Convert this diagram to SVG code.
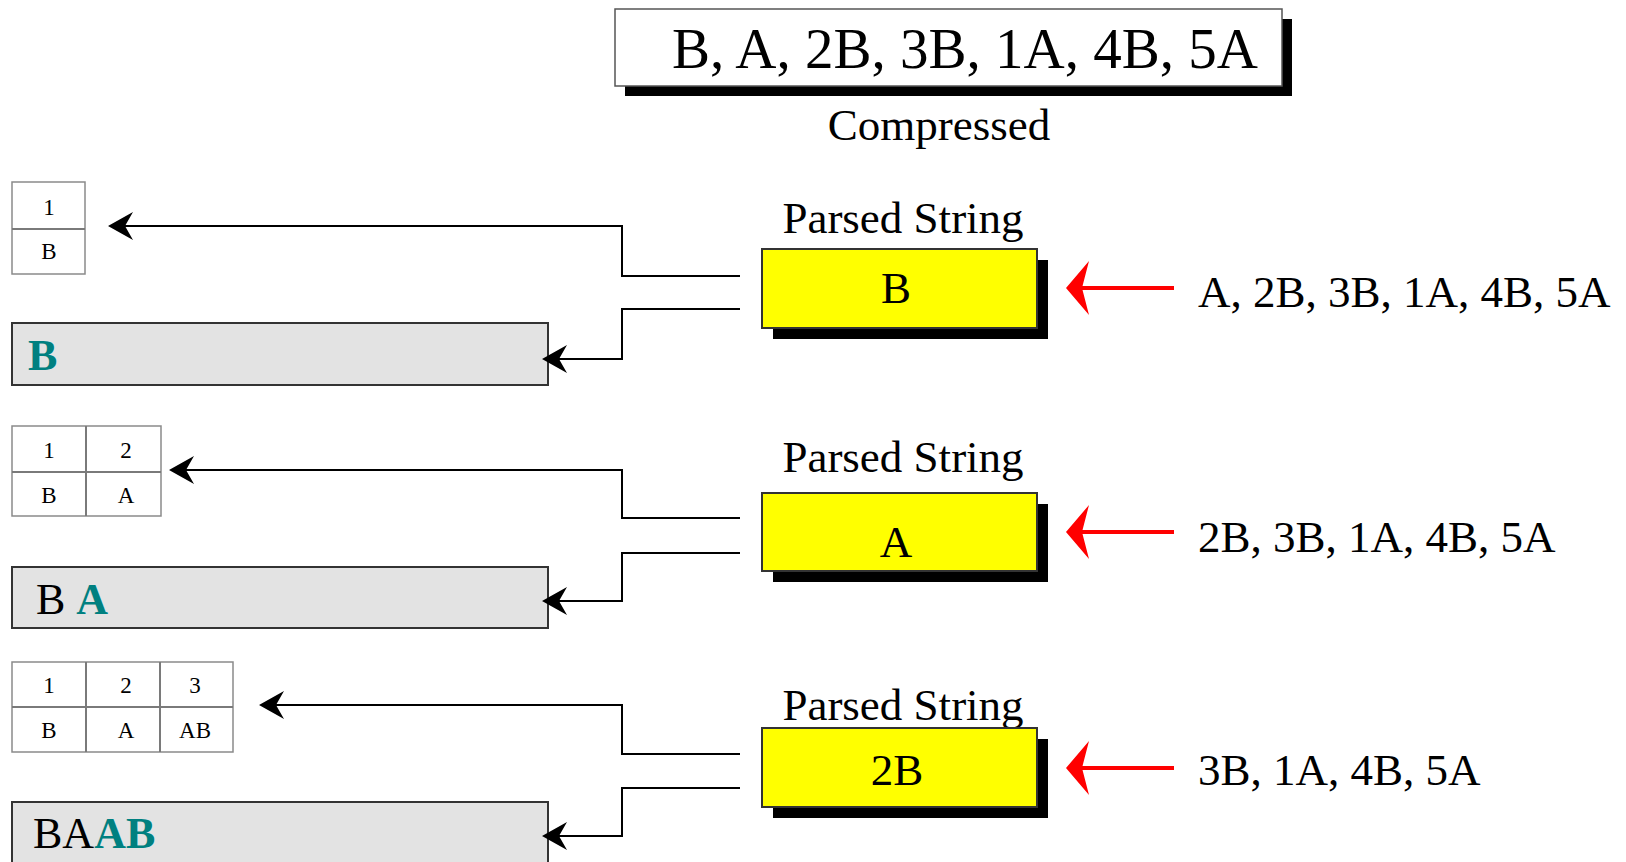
<svg xmlns="http://www.w3.org/2000/svg" width="1626" height="862" viewBox="0 0 1626 862">
<style>
.serif{font-family:"Liberation Serif","Times New Roman",serif;fill:#000}
.big{font-size:57px}
.mid{font-size:45px}
.cell{font-size:23px;text-anchor:middle}
.tbl{fill:#fff;stroke:#8a8a8a;stroke-width:1.5}
.tdiv{stroke:#7a7a7a;stroke-width:2}
.shadow{fill:#000}
.ybox{fill:#ffff00;stroke:#333;stroke-width:2}
.gbox{fill:#e3e3e3;stroke:#333;stroke-width:2}
.teal{fill:#008080;font-weight:bold}
.conn{fill:none;stroke:#000;stroke-width:2}
.red{fill:none;stroke:#ff0000;stroke-width:4}
</style>
<defs>
<marker id="ah" markerUnits="userSpaceOnUse" viewBox="-26 -15 28 30" markerWidth="28" markerHeight="30" refX="-8" refY="0" orient="auto" overflow="visible">
<path d="M0,0 L-25,-14 L-17,0 L-25,14 Z" fill="#000"/>
</marker>
<marker id="rh" markerUnits="userSpaceOnUse" viewBox="-26 -30 28 60" markerWidth="28" markerHeight="60" refX="-10" refY="0" orient="auto" overflow="visible">
<path d="M0,0 L-23,-27 L-16,0 L-23,27 Z" fill="#ff0000"/>
</marker>
</defs>
<rect width="1626" height="862" fill="#fff"/>

<g id="compressed">
<rect class="shadow" x="625" y="19" width="667" height="77"/>
<rect x="615" y="9" width="667" height="77" fill="#fff" stroke="#555" stroke-width="1.5"/>
<text class="serif big" x="672" y="68">B, A, 2B, 3B, 1A, 4B, 5A</text>
<text class="serif mid" x="939" y="140" text-anchor="middle">Compressed</text>
</g>

<g id="parsed1">
<text class="serif mid" x="903" y="233" text-anchor="middle">Parsed String</text>
<rect class="shadow" x="773" y="260" width="275" height="79"/>
<rect class="ybox" x="762" y="249" width="275" height="79"/>
<text class="serif mid" x="896" y="303" text-anchor="middle">B</text>
</g>
<g id="remain1"><text class="serif mid" x="1198" y="307">A, 2B, 3B, 1A, 4B, 5A</text></g>
<g id="table1">
<rect class="tbl" x="12" y="182" width="73" height="92"/>
<line class="tdiv" x1="12" y1="229" x2="85" y2="229"/>
<text class="serif cell" x="49" y="215">1</text>
<text class="serif cell" x="49" y="259">B</text>
</g>
<g id="output1">
<rect class="gbox" x="12" y="323" width="536" height="62"/>
<text class="serif mid" x="28" y="370"><tspan class="teal" font-size="44">B</tspan></text>
</g>

<g id="parsed2">
<text class="serif mid" x="903" y="472" text-anchor="middle">Parsed String</text>
<rect class="shadow" x="773" y="504" width="275" height="78"/>
<rect class="ybox" x="762" y="493" width="275" height="78"/>
<text class="serif mid" x="896" y="557" text-anchor="middle">A</text>
</g>
<g id="remain2"><text class="serif mid" x="1198" y="552">2B, 3B, 1A, 4B, 5A</text></g>
<g id="table2">
<rect class="tbl" x="12" y="426" width="149" height="90"/>
<line class="tdiv" x1="12" y1="472" x2="161" y2="472"/>
<line class="tdiv" x1="86" y1="426" x2="86" y2="516"/>
<text class="serif cell" x="49" y="458">1</text>
<text class="serif cell" x="126" y="458">2</text>
<text class="serif cell" x="49" y="503">B</text>
<text class="serif cell" x="126" y="503">A</text>
</g>
<g id="output2">
<rect class="gbox" x="12" y="567" width="536" height="61"/>
<text class="serif" font-size="44" x="36" y="614">B <tspan class="teal">A</tspan></text>
</g>

<g id="parsed3">
<text class="serif mid" x="903" y="720" text-anchor="middle">Parsed String</text>
<rect class="shadow" x="773" y="739" width="275" height="79"/>
<rect class="ybox" x="762" y="728" width="275" height="79"/>
<text class="serif mid" x="897" y="785" text-anchor="middle">2B</text>
</g>
<g id="remain3"><text class="serif mid" x="1198" y="785">3B, 1A, 4B, 5A</text></g>
<g id="table3">
<rect class="tbl" x="12" y="662" width="221" height="90"/>
<line class="tdiv" x1="12" y1="707" x2="233" y2="707"/>
<line class="tdiv" x1="86" y1="662" x2="86" y2="752"/>
<line class="tdiv" x1="160" y1="662" x2="160" y2="752"/>
<text class="serif cell" x="49" y="693">1</text>
<text class="serif cell" x="126" y="693">2</text>
<text class="serif cell" x="195" y="693">3</text>
<text class="serif cell" x="49" y="738">B</text>
<text class="serif cell" x="126" y="738">A</text>
<text class="serif cell" x="195" y="738">AB</text>
</g>
<g id="output3">
<rect class="gbox" x="12" y="802" width="536" height="64"/>
<text class="serif" font-size="44" x="33" y="848">BA<tspan class="teal">AB</tspan></text>
</g>

<g id="connectors">
<path class="conn" d="M740,276 H622 V226 H116" marker-end="url(#ah)"/>
<path class="conn" d="M740,309 H622 V359 H550" marker-end="url(#ah)"/>
<path class="conn" d="M740,518 H622 V470 H177" marker-end="url(#ah)"/>
<path class="conn" d="M740,553 H622 V601 H550" marker-end="url(#ah)"/>
<path class="conn" d="M740,754 H622 V705 H267" marker-end="url(#ah)"/>
<path class="conn" d="M740,788 H622 V836 H550" marker-end="url(#ah)"/>
<path class="red" d="M1174,288 H1076" marker-end="url(#rh)"/>
<path class="red" d="M1174,532 H1076" marker-end="url(#rh)"/>
<path class="red" d="M1174,768 H1076" marker-end="url(#rh)"/>
</g>
</svg>
